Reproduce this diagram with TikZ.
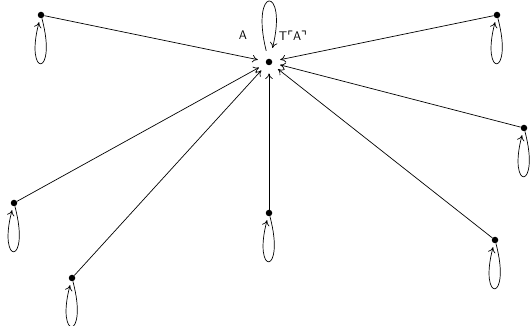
\documentclass[tikz,border=0pt]{standalone}
\usepackage{fontspec}
\newfontfamily\symfont{DejaVu Sans}
\usetikzlibrary{arrows.meta}
\begin{document}
\begin{tikzpicture}[x=1pt,y=-1pt,
  tip/.style={-{Computer Modern Rightarrow[length=5.5pt,width=7.5pt]},line width=0.7pt},
  dot/.style={circle,fill,inner sep=0pt,minimum size=6.5pt},
  edge/.style={tip,shorten >=8pt},
  selfloop/.style={tip,out=-75,in=-105,looseness=8,min distance=62pt,shorten >=4pt},
  toploop/.style={tip,out=104,in=76,looseness=8,min distance=76pt,shorten <=8pt,shorten >=11pt},
  lbl/.style={font=\sffamily\fontsize{12.5}{14}\selectfont,inner sep=1pt}]
\useasboundingbox (0,0) rectangle (531,326);
\node[dot] (c) at (269,62) {};
\node[dot] (n1) at (41,15) {};
\node[dot] (n2) at (497,15) {};
\node[dot] (n3) at (524,128) {};
\node[dot] (n4) at (14,203) {};
\node[dot] (n5) at (269,213) {};
\node[dot] (n6) at (72,278) {};
\node[dot] (n7) at (495,240) {};
\foreach \n in {n1,n2,n3,n4,n5,n6,n7} {
  \draw[edge] (\n) -- (c);
  \draw[selfloop] (\n) to (\n);
}
\draw[toploop] (c) to (c);
\node[lbl] (la) at (243,35) {A};
\node[lbl] (lt) at (293,36) {T{\symfont ⌜}A{\symfont ⌝}};
\end{tikzpicture}
\end{document}
